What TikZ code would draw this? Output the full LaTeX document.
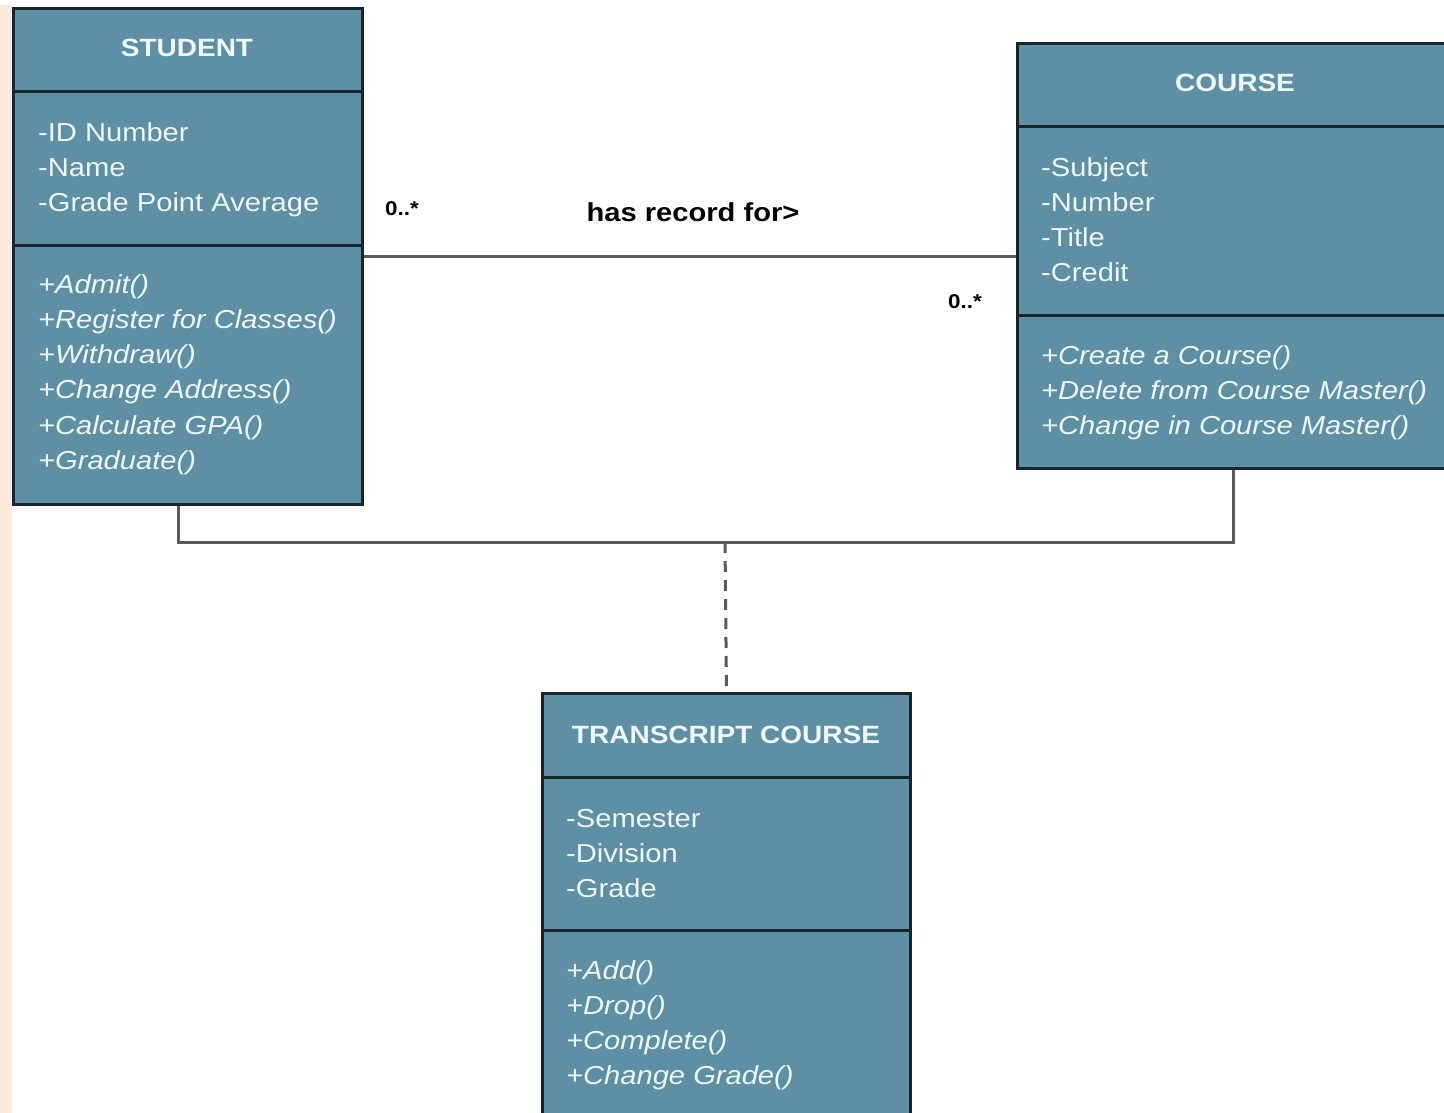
\documentclass[tikz,border=0pt]{standalone}
\usepackage{fontspec}
\setmainfont{Liberation Sans}
\newfontfamily\umlfont[FakeStretch=1.12]{Liberation Sans}
\definecolor{boxfill}{HTML}{5D90A4}
\definecolor{boxline}{HTML}{18262C}
\definecolor{txt}{HTML}{EEF6F6}
\definecolor{conncol}{HTML}{5A5A5A}
\definecolor{beige}{HTML}{FAEBDC}
\begin{document}
\begin{tikzpicture}[x=1pt,y=-1pt,
  box/.style={draw=boxline, line width=3pt, fill=boxfill, inner sep=0pt, anchor=north west},
  divider/.style={draw=boxline, line width=3pt},
  title/.style={font=\umlfont\bfseries\fontsize{25}{30}\selectfont, text=txt, anchor=base, inner sep=0pt},
  attr/.style={font=\umlfont\fontsize{26}{35.3}\selectfont, text=txt, align=left, anchor=base west, inner sep=0pt},
  meth/.style={font=\umlfont\itshape\fontsize{26}{35.3}\selectfont, text=txt, align=left, anchor=base west, inner sep=0pt},
  conn/.style={draw=conncol, line width=3pt},
  dashconn/.style={conn, dash pattern=on 11pt off 8pt},
  mult/.style={font=\umlfont\bfseries\fontsize{20}{24}\selectfont, anchor=base west, inner sep=0pt},
  assoc/.style={font=\umlfont\bfseries\fontsize{26}{30}\selectfont, anchor=base, inner sep=0pt}
]
\clip (0,0) rectangle (1444,1113);
\fill[white] (0,0) rectangle (1444,1113);
\fill[beige] (0,5) rectangle (12,1113);

% STUDENT
\node[box, minimum width=349pt, minimum height=496pt] (student) at (12,7) {};
\draw[divider] (12,92) -- (361,92);
\draw[divider] (12,245) -- (361,245);
\node[title] (stitle) at (187,57) {STUDENT};
\node[attr] (sattr) at (38,211.6) {-ID Number\\-Name\\-Grade Point Average};
\node[meth] (smeth) at (38,469.5) {+Admit()\\+Register for Classes()\\+Withdraw()\\+Change Address()\\+Calculate GPA()\\+Graduate()};

% COURSE
\node[box, minimum width=440pt, minimum height=425pt] (course) at (1016,42) {};
\draw[divider] (1016,127) -- (1460,127);
\draw[divider] (1016,315) -- (1460,315);
\node[title] (ctitle) at (1235,92) {COURSE};
\node[attr] (cattr) at (1041,281.9) {-Subject\\-Number\\-Title\\-Credit};
\node[meth] (cmeth) at (1041,434.6) {+Create a Course()\\+Delete from Course Master()\\+Change in Course Master()};

% TRANSCRIPT COURSE
\node[box, minimum width=368pt, minimum height=440pt] (trans) at (541,692) {};
\draw[divider] (541,777) -- (909,777);
\draw[divider] (541,930) -- (909,930);
\node[title] (ttitle) at (726,743) {TRANSCRIPT COURSE};
\node[attr] (tattr) at (566,897.6) {-Semester\\-Division\\-Grade};
\node[meth] (tmeth) at (566,1084.9) {+Add()\\+Drop()\\+Complete()\\+Change Grade()};

% association
\draw[conn] (student.east) -- (student.east -| course.west);
\node[mult] (m1) at (385,215) {0..*};
\node[mult] (m2) at (948,308) {0..*};
\node[assoc] (lab) at (693,222) {has record for>};

% association class link
\coordinate (jl) at (178,542);
\coordinate (jr) at (1233,542);
\coordinate (jm) at (725,542);
\draw[conn] (student.south -| jl) -- (jl) -- (jr) -- (course.south -| jr);
\draw[dashconn] (jm) -- (trans.north);
\end{tikzpicture}
\end{document}
